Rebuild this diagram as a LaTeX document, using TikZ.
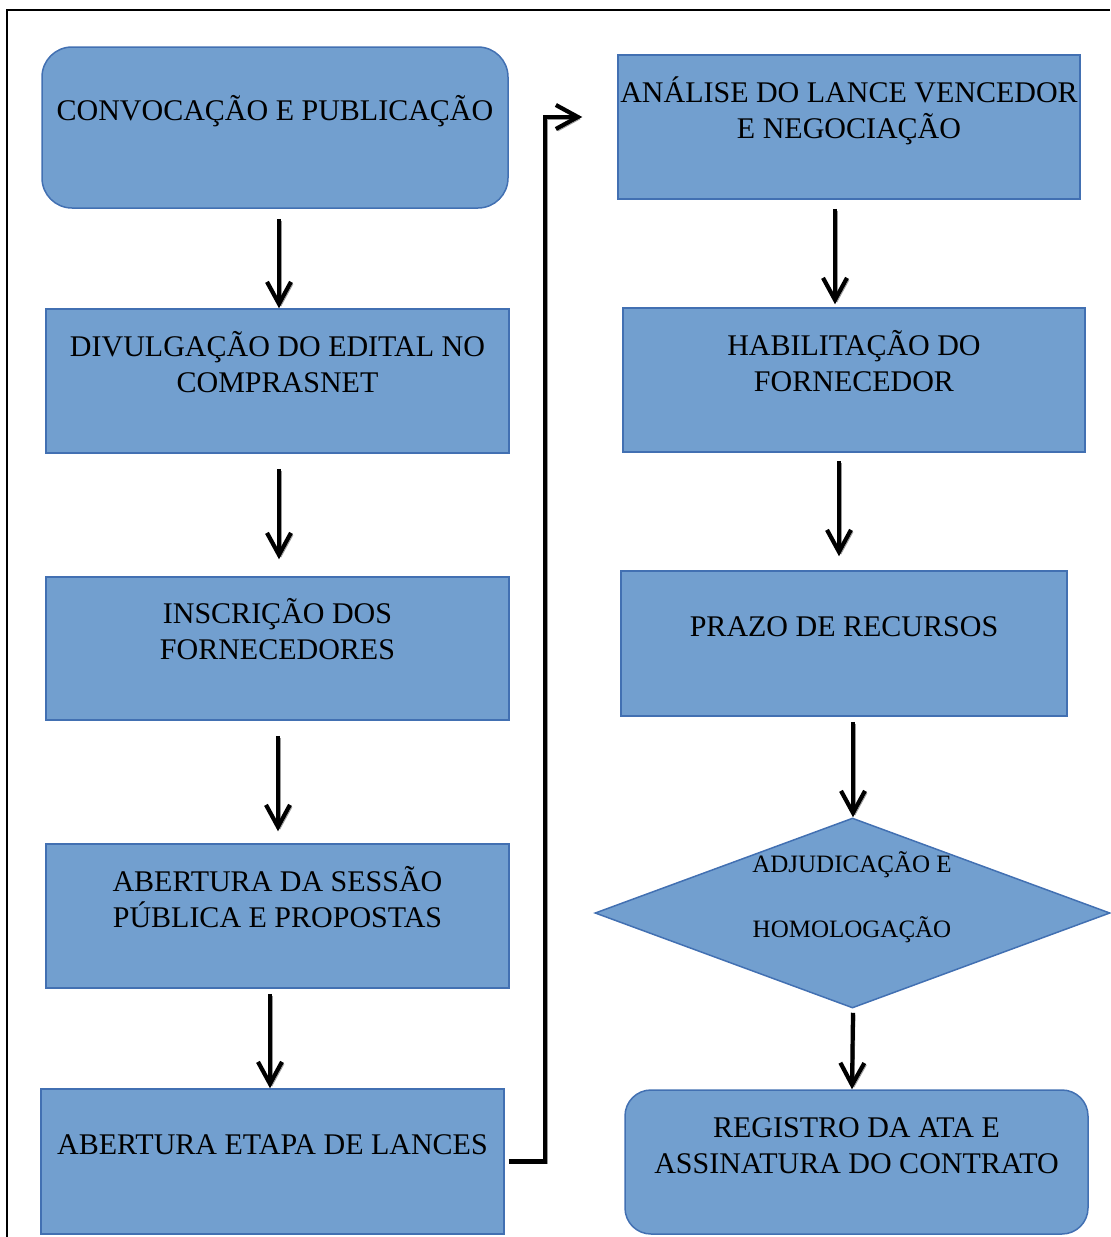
\documentclass[tikz,border=0pt]{standalone}
\usepackage{fontspec}
\setmainfont{Liberation Serif}
\usepackage{tikz}
\usetikzlibrary{arrows.meta,shapes.geometric,positioning}
\definecolor{caixa}{RGB}{114,159,207}
\definecolor{borda}{RGB}{66,112,178}

\begin{document}
\begin{tikzpicture}[x=0.5pt, y=-0.5pt,
      every node/.style={align=center, inner sep=0pt, font=\fontsize{15}{18}\selectfont},
      etapa/.style={draw=borda, fill=caixa, line width=0.75pt, rectangle},
      etapaarred/.style={etapa, rounded corners=15pt},
      decisao/.style={draw=borda, fill=caixa, line width=0.75pt, diamond},
      seta/.style={line width=2.1pt, -{Straight Barb[length=11pt,width=12pt]},
        preaction={draw=black!40, transform canvas={shift={(1pt,-1pt)}}}}
    ]

    \useasboundingbox (0,0) rectangle (1110,1237);
    \draw[line width=0.75pt] (7,1237) -- (7,10) -- (1110,10);

    \node[etapaarred, minimum width=233pt, minimum height=80.5pt] (conv) at (275,127.5)
        {\strut CONVOCAÇÃO E PUBLICAÇÃO\\[-4pt] \strut};
    \node[etapa, minimum width=231.5pt, minimum height=72pt] (divulg) at (277.5,381)
        {\strut DIVULGAÇÃO DO EDITAL NO\\COMPRASNET\\[-4pt] \strut};
    \node[etapa, minimum width=231.5pt, minimum height=71.5pt] (inscr) at (277.5,648.5)
        {\strut INSCRIÇÃO DOS\\FORNECEDORES\\[-4pt] \strut};
    \node[etapa, minimum width=231.5pt, minimum height=72pt] (sessao) at (277.5,916)
        {\strut ABERTURA DA SESSÃO\\P\smash{Ú}BLICA E PROPOSTAS\\[-4pt] \strut};
    \node[etapa, minimum width=231.5pt, minimum height=72.5pt] (lances) at (272.5,1161.5)
        {\strut ABERTURA ETAPA DE LANCES\\[-4pt] \strut};

    \node[etapa, minimum width=231pt, minimum height=72pt] (analise) at (849,127)
        {\strut ANÁLISE DO LANCE VENCEDOR\\E NEGOCIAÇÃO\\[-4pt] \strut};
    \node[etapa, minimum width=231pt, minimum height=72pt] (habil) at (854,380)
        {\strut HABILITAÇÃO DO\\FORNECEDOR\\[-4pt] \strut};
    \node[etapa, minimum width=223pt, minimum height=72.5pt] (prazo) at (844,643.5)
        {\strut PRAZO DE RECURSOS\\[-4pt] \strut};
    \node[decisao, minimum width=257.5pt, minimum height=95pt] (adj) at (852.5,913) {};
    \node[font=\fontsize{12.5}{32.5}\selectfont] (adjtxt) at (852,897)
        {ADJUDICAÇÃO E\\HOMOLOGAÇÃO};
    \node[etapa, rounded corners=13pt, minimum width=231.5pt, minimum height=72pt] (registro) at (856.5,1162)
        {\strut REGISTRO DA ATA E\\ASSINATURA DO CONTRATO\\[-4pt] \strut};

    \draw[seta] ([shift={(4,10)}]conv.south) -- ([shift={(4,0)}]conv.south |- divulg.north);
    \draw[seta] ([shift={(1.5,15)}]divulg.south) -- ([shift={(1.5,-17)}]inscr.north);
    \draw[seta] ([shift={(0.5,15)}]inscr.south) -- ([shift={(0.5,-12)}]sessao.north);
    \draw[seta] ([shift={(-7.5,5)}]sessao.south) -- ([shift={(-2.5,0)}]lances.north);
    \draw[seta] ([xshift=2pt]lances.east) -| ([shift={(-72,-10)}]analise.west)
        -- ([shift={(-35,-10)}]analise.west);
    \draw[seta] ([shift={(-14,9)}]analise.south) -- ([shift={(-19,-3)}]habil.north);
    \draw[seta] ([shift={(-15,8)}]habil.south) -- ([shift={(-5,-14)}]prazo.north);
    \draw[seta] ([shift={(9,5)}]prazo.south) -- ([shift={(0.5,0)}]adj.north);
    \draw[seta] ([shift={(0.5,4)}]adj.south) -- ([shift={(-4.5,0)}]registro.north);
\end{tikzpicture}
\end{document}
